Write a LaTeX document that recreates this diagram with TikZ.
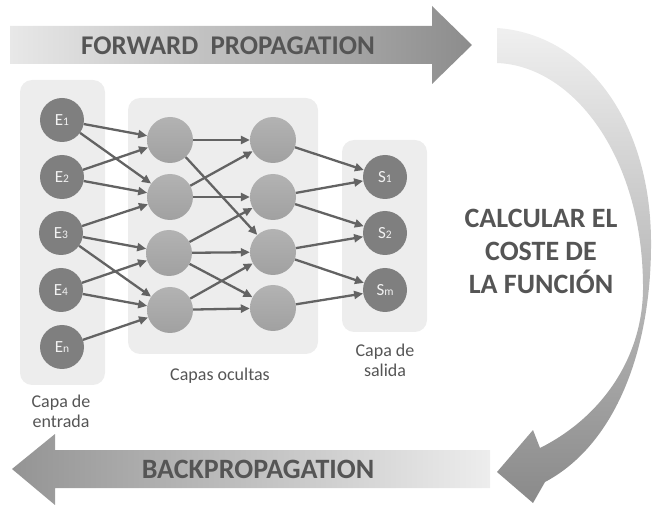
\documentclass[tikz,border=0pt]{standalone}
\usepackage{fontspec}
\setmainfont{Carlito}
\usepackage{xcolor}
\usepackage{tikz}
\usetikzlibrary{arrows.meta}

\definecolor{panelgris}{HTML}{EDEDED}
\definecolor{nodogris}{HTML}{7F7F7F}
\definecolor{ocultagris}{HTML}{A8A8A8}
\definecolor{lineagris}{HTML}{636363}
\definecolor{textogris}{HTML}{555555}

\newcommand{\ind}[1]{{\fontsize{11.5}{11.5}\selectfont #1}}

\tikzset{
  capa/.style={fill=panelgris, rounded corners=12pt},
  neurona/.style={circle, fill=nodogris, minimum size=44pt, inner sep=0pt, text=black!5, font=\fontsize{17}{17}\selectfont},
  oculta/.style={circle, top color=black!30, bottom color=black!37, minimum size=46pt, inner sep=0pt},
  enlace/.style={draw=lineagris, line width=2.3pt, -{Triangle[length=9pt,width=8pt]}},
  rotulo/.style={text=textogris, font=\fontsize{18}{20}\selectfont, align=center},
  titulo/.style={text=textogris, font=\fontsize{28}{33}\selectfont\bfseries, align=center}
}

\begin{document}
\begin{tikzpicture}[x=1pt, y=-1pt]
		\useasboundingbox (0,0) rectangle (654,505);
		
		% flechas grandes
		\shade[left color=black!9, right color=black!45]
			(10,26) -- (432,26) -- (432,6) -- (472,45) -- (432,84) -- (432,64) -- (10,64) -- cycle;
		\shade[left color=black!42, right color=black!7]
			(490,450) -- (55,450) -- (55,434) -- (12,469) -- (55,505) -- (55,488) -- (490,488) -- cycle;
		\shade[top color=black!6, middle color=black!14, bottom color=black!46]
			(497,28) .. controls (585,34) and (650,120) .. (651,240)
			.. controls (652,350) and (615,445) .. (545,482)
			-- (533,503) -- (497,472) -- (533,430) -- (540,448)
			.. controls (600,418) and (642,360) .. (643,290)
			.. controls (644,160) and (575,66) .. (497,63) -- cycle;
		
		\node[text=textogris, font=\fontsize{27}{30}\selectfont\bfseries] (fwd) at (228,46) {FORWARD\ \ PROPAGATION};
		\node[titulo] (back) at (258,469) {BACKPROPAGATION};
		\node[titulo] (coste) at (541,251) {CALCULAR EL\\COSTE DE\\LA FUNCIÓN};
		
		% capas
		\fill[capa] (20,80) rectangle (105,385);
		\fill[capa] (128,98) rectangle (318,354);
		\fill[capa] (342,140) rectangle (427,332);
		
		\node[neurona] (e1) at (62,120) {E\ind{1}};
		\node[neurona] (e2) at (62,177) {E\ind{2}};
		\node[neurona] (e3) at (61,233) {E\ind{3}};
		\node[neurona] (e4) at (61,290) {E\ind{4}};
		\node[neurona] (en) at (62,347) {E\ind{n}};
		
		\node[oculta] (h1a) at (170,140) {};
		\node[oculta] (h1b) at (170,197) {};
		\node[oculta] (h1c) at (169,253) {};
		\node[oculta] (h1d) at (170,310) {};
		\node[oculta] (h2a) at (273,140) {};
		\node[oculta] (h2b) at (273,197) {};
		\node[oculta] (h2c) at (273,252) {};
		\node[oculta] (h2d) at (273,308) {};
		
		\node[neurona] (s1) at (385,177) {S\ind{1}};
		\node[neurona] (s2) at (385,233) {S\ind{2}};
		\node[neurona] (sm) at (385,290) {S\ind{m}};
		
		% conexiones
		\draw[enlace] (e1) -- (h1a);
		\draw[enlace] (e1) -- (h1b);
		\draw[enlace] (e2) -- (h1a);
		\draw[enlace] (e2) -- (h1b);
		\draw[enlace] (e3) -- (h1b);
		\draw[enlace] (e3) -- (h1c);
		\draw[enlace] (e3) -- (h1d);
		\draw[enlace] (e4) -- (h1c);
		\draw[enlace] (e4) -- (h1d);
		\draw[enlace] (en) -- (h1d);
		
		\draw[enlace] (h1a) -- (h2a);
		\draw[enlace] (h1a) -- (h2c);
		\draw[enlace] (h1b) -- (h2a);
		\draw[enlace] (h1b) -- (h2b);
		\draw[enlace] (h1c) -- (h2b);
		\draw[enlace] (h1c) -- (h2c);
		\draw[enlace] (h1c) -- (h2d);
		\draw[enlace] (h1d) -- (h2c);
		\draw[enlace] (h1d) -- (h2d);
		
		\draw[enlace] (h2a) -- (s1);
		\draw[enlace] (h2b) -- (s1);
		\draw[enlace] (h2b) -- (s2);
		\draw[enlace] (h2c) -- (s2);
		\draw[enlace] (h2c) -- (sm);
		\draw[enlace] (h2d) -- (sm);
		
		\begin{scope}[rotulo]
			\node (lsal) at (385,360) {Capa de\\salida};
			\node (locu) at (220,376) {Capas ocultas};
			\node (lent) at (61,411) {Capa de\\entrada};
		\end{scope}
	\end{tikzpicture}
\end{document}
